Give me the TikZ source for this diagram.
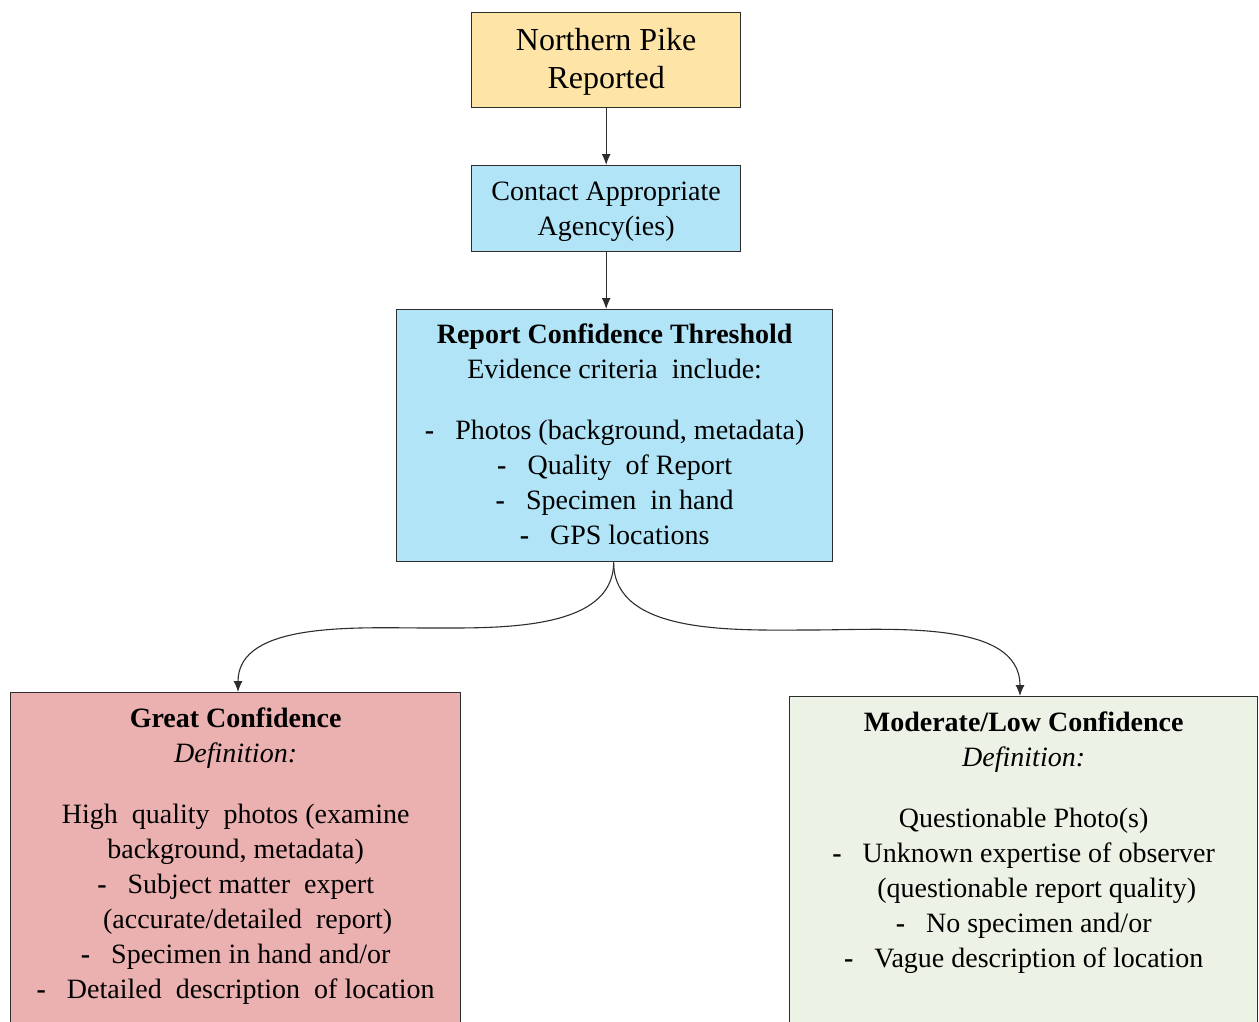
\documentclass[tikz,border=0pt]{standalone}
\usepackage{fontspec}
\setmainfont{Liberation Serif}
\usetikzlibrary{arrows.meta}
\definecolor{pikeyellow}{RGB}{254,229,167}
\definecolor{agencyblue}{RGB}{176,228,246}
\definecolor{greatpink}{RGB}{235,176,176}
\definecolor{lowgreen}{RGB}{236,243,230}
\definecolor{edgegray}{RGB}{45,45,45}
\newcommand{\dashmark}{\textbf{-}\ \ \ }
\tikzset{
  box/.style={draw=edgegray, line width=1.3pt, inner sep=0pt, anchor=north west},
  body/.style={align=center, inner sep=0pt, font=\fontsize{28}{35}\selectfont},
  flow/.style={draw=edgegray, line width=1.1pt, -{Latex[length=11pt,width=9pt]}},
}
\begin{document}
\begin{tikzpicture}[x=1pt,y=1pt]
\useasboundingbox (0,0) rectangle (1259,-1021);
\begin{scope}
\clip (0,0) rectangle (1259,-1021);

% top row
\node[box, fill=pikeyellow, minimum width=269pt, minimum height=95pt] (pike) at (471,-12) {};
\node[body, font=\fontsize{32}{38}\selectfont] (piketxt) at ([yshift=-2pt]pike.center) {Northern Pike\\Reported};

\node[box, fill=agencyblue, minimum width=269pt, minimum height=86pt] (agency) at (471,-165) {};
\node[body] (agencytxt) at ([yshift=-3pt]agency.center) {Contact Appropriate\\Agency(ies)};

% threshold box
\node[box, fill=agencyblue, minimum width=436pt, minimum height=252pt] (thresh) at (396,-309) {};
\node[body, anchor=north] (threshtxt) at ([yshift=-15pt]thresh.north) {%
  \textbf{Report Confidence Threshold}\\
  Evidence criteria\ \ include:\\[26pt]
  \dashmark Photos (background, metadata)\\
  \dashmark Quality\ \ of Report\\
  \dashmark Specimen\ \ in hand\\
  \dashmark GPS locations};

% outcome boxes (run past the lower edge)
\node[box, fill=greatpink, minimum width=450pt, minimum height=360pt] (great) at (10,-692) {};
\node[body, anchor=north] (greattxt) at ([yshift=-16pt]great.north) {%
  \textbf{Great Confidence}\\
  \textit{Definition:}\\[26pt]
  High\ \ quality\ \ photos (examine\\
  background, metadata)\\
  \dashmark Subject matter\ \ expert\\
  \hspace*{24pt}(accurate/detailed\ \ report)\\
  \dashmark Specimen in hand and/or\\
  \dashmark Detailed\ \ description\ \ of location};

\node[box, fill=lowgreen, minimum width=468pt, minimum height=360pt] (low) at (789,-696) {};
\node[body, anchor=north] (lowtxt) at ([yshift=-16pt]low.north) {%
  \textbf{Moderate/Low Confidence}\\
  \textit{Definition:}\\[26pt]
  Questionable Photo(s)\\
  \dashmark Unknown expertise of observer\\
  \hspace*{26pt}(questionable report quality)\\
  \dashmark No specimen and/or\\
  \dashmark Vague description of location};
\end{scope}

% connectors
\draw[flow] (pike.south) -- (agency.north);
\draw[flow] (agency.south) -- (agency.south |- thresh.north);

\coordinate (split) at ([xshift=-1pt]thresh.south);
\coordinate (leftbend) at (430,-628);
\coordinate (rightbend) at (810,-630);
\coordinate (greatin) at (238,-692);
\coordinate (lowin) at (1020,-696);
\draw[flow] (split) to[out=-90,in=0,looseness=0.9] (leftbend) to[out=180,in=90,looseness=0.9] (greatin);
\draw[flow] (split) to[out=-90,in=180,looseness=0.9] (rightbend) to[out=0,in=90,looseness=0.9] (lowin);
\end{tikzpicture}
\end{document}
